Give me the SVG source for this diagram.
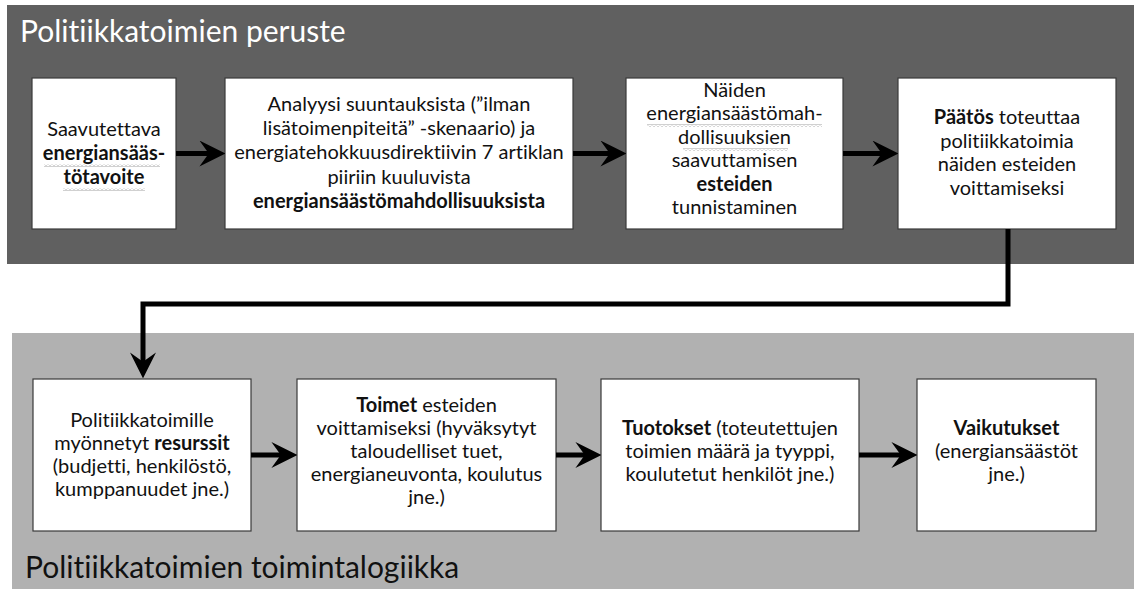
<svg xmlns="http://www.w3.org/2000/svg" width="1134" height="589" viewBox="0 0 1134 589">
<style>
.panel-top{fill:#606060}
.panel-bot{fill:#b1b1b1}
.box{fill:#ffffff;stroke:#3a3a3a;stroke-width:1.2}
text{font-variant-ligatures:none;font-feature-settings:"liga" 0}
.t{font-family:Lato,"Open Sans",sans-serif;font-size:20px;fill:#111;text-anchor:middle}
.b{font-weight:bold}
.title{font-family:Lato,"Open Sans",sans-serif;font-size:30px}
.conn{fill:none;stroke:#000;stroke-width:5}
</style>
<defs>
<marker id="ah" markerUnits="userSpaceOnUse" markerWidth="26" markerHeight="26" viewBox="0 0 25 25" refX="15" refY="12.5" orient="auto">
<path d="M0,0 L25,12.5 L0,25 L9,12.5 Z" fill="#000"/>
</marker>
<pattern id="wave" width="4" height="3" patternUnits="userSpaceOnUse">
<path d="M0,2.5 L2,0.5 L4,2.5" stroke="#8a8a8a" fill="none" stroke-width="0.8"/>
</pattern>
</defs>
<rect width="1134" height="589" fill="#fff"/>
<g id="panel-peruste">
<rect class="panel-top" x="7" y="5" width="1127" height="259"/>
<text class="title" x="20" y="42" fill="#fff">Politiikkatoimien peruste</text>
</g>
<g id="panel-toimintalogiikka">
<rect class="panel-bot" x="12" y="333" width="1122" height="256"/>
<text class="title" x="25" y="578" fill="#111">Politiikkatoimien toimintalogiikka</text>
</g>
<g id="n1">
<rect class="box" x="32" y="78" width="144" height="151"/>
<text class="t" x="104" y="136">Saavutettava</text>
<text class="t b" x="104" y="160">energiansääs-</text>
<text class="t b" x="104" y="184">tötavoite</text>
<rect x="44" y="164" width="116" height="3" fill="url(#wave)"/>
<rect x="63" y="188" width="82" height="3" fill="url(#wave)"/>
</g>
<g id="n2">
<rect class="box" x="225" y="78" width="348" height="151"/>
<text class="t" x="399" y="111">Analyysi suuntauksista (”ilman</text>
<text class="t" x="399" y="135">lisätoimenpiteitä” -skenaario) ja</text>
<text class="t" x="399" y="159">energiatehokkuusdirektiivin 7 artiklan</text>
<text class="t" x="399" y="184">piiriin kuuluvista</text>
<text class="t b" x="399" y="208">energiansäästömahdollisuuksista</text>
</g>
<g id="n3">
<rect class="box" x="626" y="78" width="217" height="151"/>
<text class="t" x="734.5" y="97">Näiden</text>
<text class="t" x="734.5" y="120">energiansäästömah-</text>
<text class="t" x="734.5" y="144">dollisuuksien</text>
<text class="t" x="734.5" y="167">saavuttamisen</text>
<text class="t b" x="734.5" y="191">esteiden</text>
<text class="t" x="734.5" y="214">tunnistaminen</text>
<rect x="647" y="124" width="175" height="3" fill="url(#wave)"/>
<rect x="683" y="148" width="105" height="3" fill="url(#wave)"/>
</g>
<g id="n4">
<rect class="box" x="898" y="78" width="218" height="151"/>
<text class="t" x="1007" y="124"><tspan class="b">Päätös</tspan> toteuttaa</text>
<text class="t" x="1007" y="148">politiikkatoimia</text>
<text class="t" x="1007" y="171">näiden esteiden</text>
<text class="t" x="1007" y="195">voittamiseksi</text>
</g>
<g id="n5">
<rect class="box" x="33" y="379" width="218" height="152"/>
<text class="t" x="142" y="427">Politiikkatoimille</text>
<text class="t" x="142" y="450">myönnetyt <tspan class="b">resurssit</tspan></text>
<text class="t" x="142" y="473">(budjetti, henkilöstö,</text>
<text class="t" x="142" y="496">kumppanuudet jne.)</text>
</g>
<g id="n6">
<rect class="box" x="297" y="379" width="259" height="152"/>
<text class="t" x="426.5" y="412"><tspan class="b">Toimet</tspan> esteiden</text>
<text class="t" x="426.5" y="435">voittamiseksi (hyväksytyt</text>
<text class="t" x="426.5" y="458">taloudelliset tuet,</text>
<text class="t" x="426.5" y="481">energianeuvonta, koulutus</text>
<text class="t" x="426.5" y="504">jne.)</text>
</g>
<g id="n7">
<rect class="box" x="601" y="379" width="258" height="152"/>
<text class="t" x="730" y="435"><tspan class="b">Tuotokset</tspan> (toteutettujen</text>
<text class="t" x="730" y="458">toimien määrä ja tyyppi,</text>
<text class="t" x="730" y="481">koulutetut henkilöt jne.)</text>
</g>
<g id="n8">
<rect class="box" x="917" y="379" width="179" height="152"/>
<text class="t b" x="1006.5" y="435">Vaikutukset</text>
<text class="t" x="1006.5" y="458">(energiansäästöt</text>
<text class="t" x="1006.5" y="481">jne.)</text>
</g>
<g id="connectors">
<line class="conn" x1="176" y1="153.5" x2="215" y2="153.5" marker-end="url(#ah)"/>
<line class="conn" x1="573" y1="153.5" x2="616" y2="153.5" marker-end="url(#ah)"/>
<line class="conn" x1="843" y1="153.5" x2="888" y2="153.5" marker-end="url(#ah)"/>
<path class="conn" d="M1008,229 V304 H143 V368" marker-end="url(#ah)"/>
<line class="conn" x1="251" y1="455" x2="287" y2="455" marker-end="url(#ah)"/>
<line class="conn" x1="556" y1="455" x2="591" y2="455" marker-end="url(#ah)"/>
<line class="conn" x1="859" y1="455" x2="907" y2="455" marker-end="url(#ah)"/>
</g>
</svg>
